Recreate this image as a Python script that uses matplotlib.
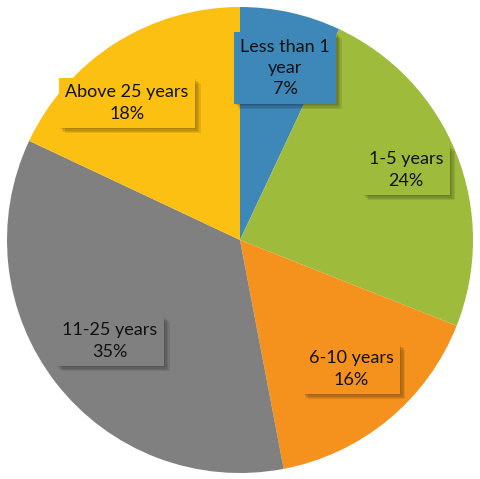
import matplotlib
matplotlib.use("Agg")
import matplotlib.pyplot as plt
import matplotlib.patheffects as pe

labels = ["Less than 1\nyear", "1-5 years", "6-10 years", "11-25 years", "Above 25 years"]
shares = [7, 24, 16, 35, 18]
colors = ["#3d88b9", "#9fbb3b", "#f5921e", "#808080", "#fcc012"]
# label centres in pixels (from top-left of the image)
label_px = [(285, 68), (406, 170), (351, 369), (110, 341), (127, 103)]

W, H = 480, 479
cx, cy, r = 240, 240, 233

fig = plt.figure(figsize=(W / 100, H / 100), dpi=100)
ax = fig.add_axes([0, 0, 1, 1])

ax.pie(shares, colors=colors, startangle=90, counterclock=False, radius=1,
       wedgeprops=dict(linewidth=0))
ax.set_aspect("auto")
ax.set_xlim(-cx / r, (W - cx) / r)
ax.set_ylim(-(H - cy) / r, cy / r)

# soft drop shadow: a few stacked faint offsets
shadow = [pe.withSimplePatchShadow(offset=(d, -d), shadow_rgbFace="#000000", alpha=0.09)
          for d in (1, 2, 3, 4)]

for lab, val, col, (px, py) in zip(labels, shares, colors, label_px):
    x = (px - cx) / r
    y = (cy - py) / r
    t = ax.text(x, y, f"{lab}\n{val}%", ha="center", va="center",
                fontsize=13, family="Lato", color="#111111", linespacing=1.4,
                bbox=dict(boxstyle="square,pad=0.35", fc=col, ec="none"))
    t.get_bbox_patch().set_path_effects(shadow)

fig.savefig("out.png", dpi=100)
